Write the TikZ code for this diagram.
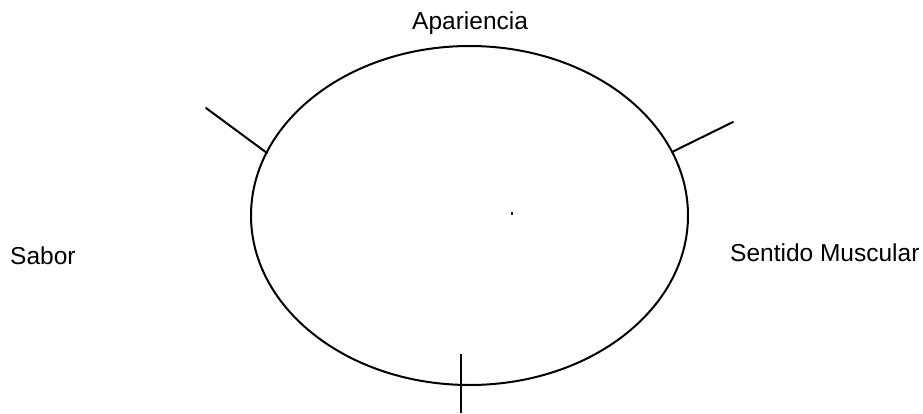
\documentclass[tikz,border=0pt]{standalone}
\usepackage{fontspec}
\setmainfont{Liberation Sans}
\usetikzlibrary{shapes.geometric}
\begin{document}
\begin{tikzpicture}[x=1pt,y=-1pt,
  lbl/.style={anchor=base west,inner sep=0pt,font=\fontsize{24.5}{28}\selectfont},
  ln/.style={line width=2pt,line cap=round}]
\useasboundingbox (0,0) rectangle (923,413);
\node[draw,ellipse,line width=2pt,minimum width=437pt,minimum height=339pt,inner sep=0pt] (e) at (469.5,215.5) {};
\coordinate (l1) at (206,108);
\coordinate (l2) at (267,153);
\coordinate (r1) at (733,122);
\coordinate (r2) at (672,152);
\coordinate (b1) at (461,354);
\coordinate (b2) at (461,413);
\draw[ln] (l1) -- (l2);
\draw[ln] (r1) -- (r2);
\draw[ln,line cap=butt] (b1) -- (b2);
\node[lbl] (ap) at (412,29) {Apariencia};
\node[lbl] (sa) at (10,264) {Sabor};
\node[lbl] (sm) at (730,261) {Sentido Muscular};
\fill (511,211.5) rectangle (513,214.5);
\end{tikzpicture}
\end{document}
